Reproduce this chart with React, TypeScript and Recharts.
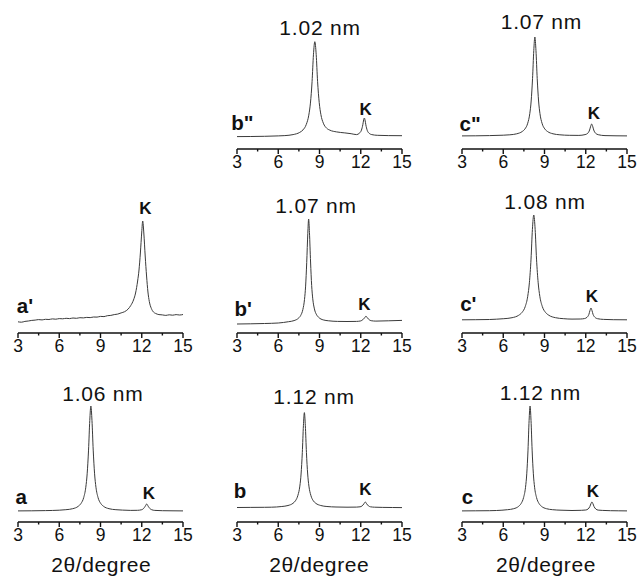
import React from 'react';
import { LineChart, Line, XAxis, YAxis } from 'recharts';

type Pt = [number, number];

// x-axis ticks (2θ, degree)
const TICKS = [3, 4.5, 6, 7.5, 9, 10.5, 12, 13.5, 15];
const MAJOR_TICKS = [3, 6, 9, 12, 15];

// Intensity patterns (arbitrary units), [2θ, intensity]
const PATTERN_A: Pt[] = [
  [3, 11.1], [4, 11.2], [5, 11.4], [6, 11.8], [6.48, 12.3], [6.98, 13.3], [7.38, 15.7], [7.58, 18.5],
  [7.78, 24.5], [7.93, 34.7], [8.03, 48.2], [8.13, 71.9], [8.22, 101.5], [8.3, 116], [8.38, 101.5],
  [8.47, 71.9], [8.57, 48.2], [8.67, 34.7], [8.82, 24.5], [9.02, 18.5], [9.22, 15.7], [9.62, 13.3],
  [10.12, 12.3], [10.6, 11.9], [11.2, 11.6], [11.7, 11.7], [12.0, 12.3], [12.14, 13.6], [12.25, 15.7],
  [12.36, 18], [12.47, 15.7], [12.58, 13.6], [12.72, 12.3], [12.95, 11.6], [13.5, 11.3], [14.2, 11.2], [15, 11.1],
];

const PATTERN_B: Pt[] = [
  [3, 14.5], [4, 14.6], [5, 14.7], [5.5, 14.8], [6.26, 15.5], [6.71, 16.5], [7.07, 18.7], [7.25, 21.2],
  [7.43, 26.7], [7.57, 35.9], [7.66, 48], [7.75, 69.5], [7.83, 96.3], [7.9, 109.4], [7.97, 96.3],
  [8.05, 69.5], [8.14, 48], [8.23, 35.9], [8.37, 26.7], [8.55, 21.2], [8.73, 18.7], [9.09, 16.5],
  [9.54, 15.5], [10.2, 15.0], [11.0, 14.8], [11.7, 14.9], [11.95, 15.2], [12.1, 16.1], [12.22, 18],
  [12.33, 20], [12.44, 18], [12.56, 16.1], [12.71, 15.2], [13.0, 14.8], [13.6, 14.6], [14.3, 14.5], [15, 14.4],
];

const PATTERN_C: Pt[] = [
  [3, 11.1], [4, 11.2], [5, 11.3], [5.5, 11.5], [6.31, 12.3], [6.76, 13.3], [7.12, 15.7], [7.3, 18.5],
  [7.48, 24.5], [7.62, 34.7], [7.71, 48.2], [7.8, 71.9], [7.88, 101.5], [7.95, 116], [8.02, 101.5],
  [8.1, 71.9], [8.19, 48.2], [8.28, 34.7], [8.42, 24.5], [8.6, 18.5], [8.78, 15.7], [9.14, 13.3],
  [9.59, 12.3], [10.2, 11.8], [11.0, 11.5], [11.7, 11.7], [12.0, 12.0], [12.17, 13.0], [12.3, 15.5],
  [12.38, 18.4], [12.45, 20], [12.52, 18.4], [12.6, 15.5], [12.73, 13.0], [12.9, 11.9], [13.2, 11.6],
  [13.8, 11.3], [14.4, 11.2], [15, 11.1],
];

const PATTERN_A1: Pt[] = [
  [3, 11.2], [3.25, 10.8], [3.5, 11.6], [3.75, 12.0], [4, 12.6], [4.25, 12.9], [4.5, 13.4], [4.75, 13.1],
  [5, 13.7], [5.25, 13.5], [5.5, 14.1], [5.75, 13.8], [6, 14.4], [6.25, 14.2], [6.5, 14.7], [6.75, 14.4],
  [7, 15.0], [7.25, 14.7], [7.5, 15.3], [7.75, 15.1], [8, 15.6], [8.25, 15.4], [8.5, 16.0], [8.75, 15.9],
  [9, 16.6], [9.25, 16.4], [9.5, 17.3], [9.75, 17.6], [10, 18.4], [10.25, 18.9], [10.5, 20.1], [10.75, 21.3],
  [11.0, 23.8], [11.2, 27.5], [11.4, 33], [11.55, 40], [11.7, 52], [11.8, 63], [11.9, 80], [12.0, 101],
  [12.07, 112], [12.15, 100], [12.25, 77], [12.35, 57], [12.45, 41], [12.55, 31.5], [12.7, 24.5],
  [12.85, 21], [13.0, 19.6], [13.25, 18.4], [13.5, 18.1], [13.75, 17.6], [14, 18.2], [14.25, 17.8],
  [14.5, 18.4], [14.75, 18.0], [15, 18.5],
];

const PATTERN_B1: Pt[] = [
  [3, 9], [4, 9.2], [5, 9.5], [6, 10], [6.75, 11.3], [7.15, 12.4], [7.47, 14.8], [7.63, 17.5], [7.79, 23.5],
  [7.91, 33.6], [7.99, 46.9], [8.07, 70.4], [8.15, 99.7], [8.21, 114], [8.27, 100.3], [8.35, 71],
  [8.43, 47.5], [8.51, 34.2], [8.63, 24.1], [8.79, 18.2], [8.95, 15.5], [9.27, 13.1], [9.67, 12.2],
  [10.3, 11.6], [11.0, 11.5], [11.7, 11.6], [12.0, 12.1], [12.15, 13.3], [12.27, 15], [12.38, 16.8],
  [12.49, 15], [12.61, 13.3], [12.76, 12.3], [13.1, 11.9], [14.0, 12.2], [15, 12.6],
];

const PATTERN_C1: Pt[] = [
  [3, 13.2], [4, 13.3], [5, 13.5], [5.5, 13.8], [6.04, 14.3], [6.64, 15.3], [7.12, 17.7], [7.36, 20.5],
  [7.6, 26.5], [7.78, 36.7], [7.9, 50.2], [8.02, 73.9], [8.12, 103.5], [8.22, 118], [8.32, 103.5],
  [8.42, 73.9], [8.54, 50.2], [8.66, 36.7], [8.84, 26.5], [9.08, 20.5], [9.32, 17.7], [9.8, 15.3],
  [10.4, 14.3], [11.0, 13.9], [11.6, 14.0], [11.9, 14.4], [12.1, 15.8], [12.23, 18.7], [12.31, 22.6],
  [12.38, 25], [12.45, 22.6], [12.53, 18.7], [12.66, 15.8], [12.86, 14.3], [13.3, 13.6], [14.0, 13.3], [15, 13.2],
];

const PATTERN_B2: Pt[] = [
  [3, 12.4], [4, 12.5], [5, 12.7], [6, 13.1], [6.48, 13.4], [7.08, 14.4], [7.56, 16.6], [7.8, 19.1],
  [8.04, 24.6], [8.22, 33.8], [8.34, 45.9], [8.46, 67.4], [8.56, 94.2], [8.66, 107.3], [8.76, 94.4],
  [8.86, 67.7], [8.98, 46.4], [9.1, 34.5], [9.28, 25.8], [9.52, 20.8], [9.76, 18.8], [10.24, 17.1],
  [10.84, 16.1], [11.3, 15.3], [11.7, 14.4], [11.9, 15.8], [12.05, 18.9], [12.15, 24.3], [12.21, 29],
  [12.26, 31], [12.31, 29], [12.37, 24.2], [12.47, 18.7], [12.62, 15.6], [12.8, 14.4], [13.2, 13.7],
  [14.0, 13.4], [15, 13.3],
];

const PATTERN_C2: Pt[] = [
  [3, 13.1], [4, 13.2], [5, 13.4], [6, 13.8], [6.48, 14.2], [6.98, 15.2], [7.38, 17.5], [7.58, 20.1],
  [7.78, 25.8], [7.93, 35.4], [8.03, 48], [8.13, 70.4], [8.22, 98.3], [8.3, 112], [8.38, 98.3],
  [8.47, 70.4], [8.57, 48], [8.67, 35.4], [8.82, 25.8], [9.02, 20.1], [9.22, 17.5], [9.62, 15.2],
  [10.12, 14.2], [10.8, 13.7], [11.5, 13.6], [11.95, 14.4], [12.15, 15.8], [12.28, 19], [12.36, 22.8],
  [12.43, 25], [12.5, 22.8], [12.58, 19], [12.71, 15.8], [12.91, 14.3], [13.4, 13.4], [14.2, 13.2], [15, 13.1],
];

// Sample names and d-spacing labels
const SAMPLE_NAMES = ['a', "a'", 'b', "b'", 'b"', 'c', "c'", 'c"'];
const D_LABELS = ['1.06 nm', '', '1.12 nm', '1.07 nm', '1.02 nm', '1.12 nm', '1.08 nm', '1.07 nm'];
const PATTERNS = [PATTERN_A, PATTERN_A1, PATTERN_B, PATTERN_B1, PATTERN_B2, PATTERN_C, PATTERN_C1, PATTERN_C2];
const X_TITLE = '2θ/degree';
const K_LABEL = 'K';

// ---- layout (pixels) ----
const COL_X = [18, 237, 462];
const ROW_AXIS_Y = [149, 333, 522];
const PANEL_POS = [
  { col: 0, row: 2 }, { col: 0, row: 1 },
  { col: 1, row: 2 }, { col: 1, row: 1 }, { col: 1, row: 0 },
  { col: 2, row: 2 }, { col: 2, row: 1 }, { col: 2, row: 0 },
];
const D_LABEL_POS = [
  [102.5, 400.7], null, [313.7, 404], [315.7, 213.3], [319.7, 35], [540, 400], [544.7, 209.3], [541, 29.3],
];
const K_POS = [
  [149, 499.3], [145.5, 214.3], [365.5, 495], [364.5, 310], [365.7, 115], [593, 497.3], [592, 302.3], [594, 119.3],
];
const NAME_POS = [
  [15.5, 504], [16.8, 313.3], [233.8, 498.3], [234.5, 316], [231.2, 130], [461.8, 504], [460.2, 311], [459.5, 131],
];
const TITLE_POS = [[101, 572.3], [319, 572.3], [545.7, 572.3]];

const FONT = 'Arial, "Liberation Sans", Helvetica, sans-serif';
const INK = '#111';

const PLOT_W = 165;
const PLOT_H = 140;
const M_LEFT = 10;
const M_TOP = 10;
const AXIS_H = 32;
const CHART_W = PLOT_W + 2 * M_LEFT;
const CHART_H = PLOT_H + M_TOP + AXIS_H;

const AxisTick = (props: any) => {
  const { x, y, payload } = props;
  const v = payload.value;
  const major = MAJOR_TICKS.includes(v);
  return (
    <g>
      <line x1={x} x2={x} y1={y} y2={y + (major ? 5 : 2.5)} stroke={INK} strokeWidth={1.4} />
      {major && (
        <text x={x} y={y + 19} textAnchor="middle" fontSize={17.5} fill={INK} fontFamily={FONT}>
          {v}
        </text>
      )}
    </g>
  );
};

const Panel = ({ idx }: { idx: number }) => {
  const pos = PANEL_POS[idx];
  const rows = PATTERNS[idx].map(([t, i]) => ({ t, i }));
  const left = COL_X[pos.col] - M_LEFT;
  const top = ROW_AXIS_Y[pos.row] - PLOT_H - M_TOP;
  return (
    <div style={{ position: 'absolute', left, top, width: CHART_W, height: CHART_H }}>
      <LineChart width={CHART_W} height={CHART_H} data={rows} margin={{ top: M_TOP, right: M_LEFT, left: M_LEFT, bottom: 0 }}>
        <XAxis
          dataKey="t"
          type="number"
          domain={[3, 15]}
          ticks={TICKS}
          interval={0}
          allowDataOverflow
          height={AXIS_H}
          tickSize={0}
          tickMargin={0}
          tickLine={false}
          axisLine={{ stroke: INK, strokeWidth: 1.6 }}
          tick={<AxisTick />}
        />
        <YAxis type="number" domain={[0, PLOT_H]} hide />
        <Line
          dataKey="i"
          type="monotone"
          stroke="#3a3a3a"
          strokeWidth={1}
          dot={false}
          activeDot={false}
          isAnimationActive={false}
        />
      </LineChart>
    </div>
  );
};

export default function App() {
  return (
    <div style={{ position: 'absolute', left: 0, top: 0, width: 638, height: 577, background: '#fff', fontFamily: FONT }}>
      {PATTERNS.map((_, i) => (
        <Panel key={i} idx={i} />
      ))}
      <svg width={638} height={577} style={{ position: 'absolute', left: 0, top: 0, pointerEvents: 'none' }}>
        {D_LABELS.map((t, i) =>
          t && D_LABEL_POS[i] ? (
            <text key={'d' + i} x={D_LABEL_POS[i]![0] + 0.4} y={D_LABEL_POS[i]![1]} textAnchor="middle" fontSize={21} letterSpacing={0.8} fill={INK} fontFamily={FONT}>
              {t}
            </text>
          ) : null
        )}
        {K_POS.map((p, i) => (
          <text key={'k' + i} x={p[0]} y={p[1]} textAnchor="middle" fontSize={17} fontWeight="bold" fill={INK} fontFamily={FONT}>
            {K_LABEL}
          </text>
        ))}
        {SAMPLE_NAMES.map((n, i) => (
          <text key={'n' + i} x={NAME_POS[i][0]} y={NAME_POS[i][1]} fontSize={20.5} fontWeight="bold" fill={INK} fontFamily={FONT}>
            {n}
          </text>
        ))}
        {TITLE_POS.map((p, i) => (
          <text key={'t' + i} x={p[0] + 0.3} y={p[1]} textAnchor="middle" fontSize={21} letterSpacing={0.6} fill={INK} fontFamily={FONT}>
            {X_TITLE}
          </text>
        ))}
      </svg>
    </div>
  );
}
